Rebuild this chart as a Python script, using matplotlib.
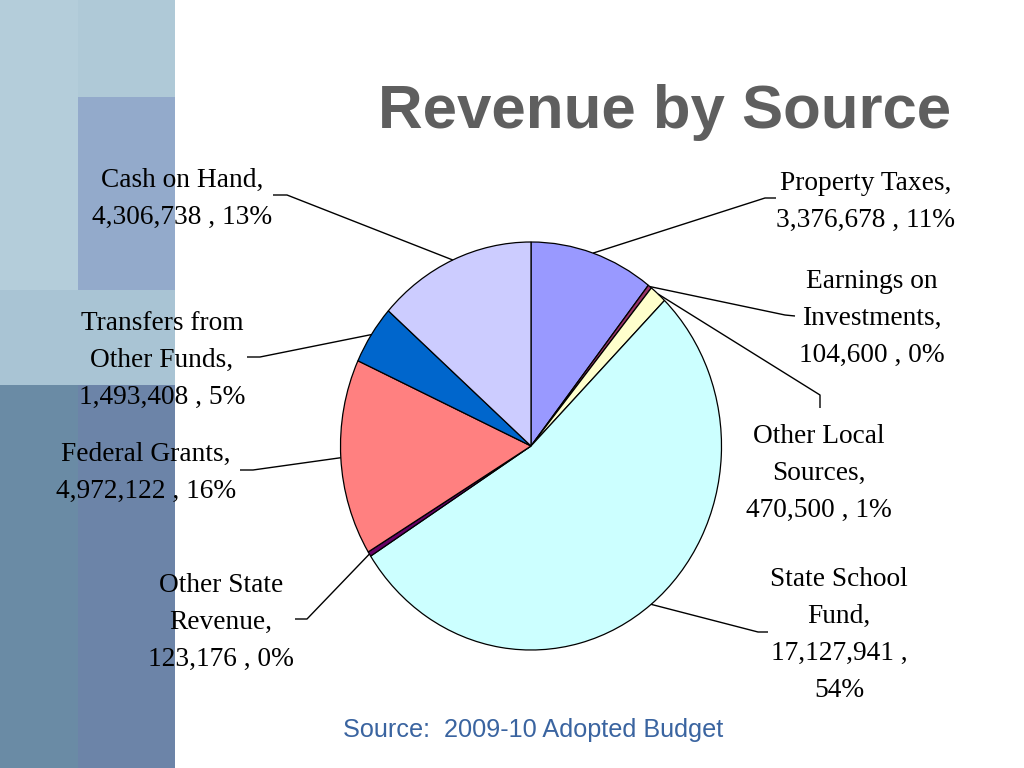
import numpy as np
import matplotlib
matplotlib.use("Agg")
import matplotlib.pyplot as plt
from matplotlib.patches import Rectangle

# revenue sources, clockwise from 12 o'clock
names = ["Property Taxes", "Earnings on\nInvestments", "Other Local\nSources",
         "State School\nFund", "Other State\nRevenue", "Federal Grants",
         "Transfers from\nOther Funds", "Cash on Hand"]
values = [3376678, 104600, 470500, 17127941, 123176, 4972122, 1493408, 4306738]
colors = ["#9999FF", "#993366", "#FFFFCC", "#CCFFFF", "#660066", "#FF8080",
          "#0066CC", "#CCCCFF"]
pct_sep = [" ", " ", " ", "\n", " ", " ", " ", " "]

title = "Revenue by Source"
source = "Source:  2009-10 Adopted Budget"

W, H = 1024, 768
# label layout in pixels: centre x, first baseline y, elbow points
label_x = [866, 872, 819, 839, 221, 146, 162, 182]
label_y = [190, 288, 443, 586, 592, 461, 330, 187]
elbow = [[(765, 198), (776, 198)],
         [(785, 315), (795, 316)],
         [(820, 395), (820, 408)],
         [(758, 632), (768, 632)],
         [(307, 619), (295, 619)],
         [(253, 470), (240, 470)],
         [(260, 357), (247, 357)],
         [(287, 195), (273, 195)]]

fig = plt.figure(figsize=(W / 100, H / 100), dpi=100)
fig.patch.set_facecolor("white")

# slide decoration on the left
bg = fig.add_axes([0, 0, 1, 1], zorder=0)
bg.set_xlim(0, W)
bg.set_ylim(H, 0)
bg.axis("off")
panels = [(0, 0, 78, 290, "#B4CDDA"),
          (78, 0, 97, 97, "#AFC9D7"),
          (78, 97, 97, 193, "#93AACB"),
          (0, 290, 175, 95, "#A9C4D4"),
          (0, 385, 78, 383, "#6A8BA5"),
          (78, 385, 97, 383, "#6C84A8")]
for x, y, w, h, c in panels:
    bg.add_patch(Rectangle((x, y), w, h, facecolor=c, edgecolor="none"))

# pie (slightly elliptical like the slide)
cx, cy, rx, ry = 531, 446, 190.5, 204
ax = fig.add_axes([(cx - rx) / W, (H - cy - ry) / H, 2 * rx / W, 2 * ry / H], zorder=1)
wedges, _ = ax.pie(values, colors=colors, startangle=90, counterclock=False,
                   wedgeprops=dict(edgecolor="black", linewidth=0.9))
ax.set_xlim(-1, 1)
ax.set_ylim(-1, 1)
ax.set_aspect("auto")
ax.axis("off")

ov = fig.add_axes([0, 0, 1, 1], zorder=2)
ov.set_xlim(0, W)
ov.set_ylim(H, 0)
ov.axis("off")
ov.patch.set_alpha(0)

total = sum(values)
for i, wdg in enumerate(wedges):
    mid = np.deg2rad((wdg.theta1 + wdg.theta2) / 2)
    dx, dy = ax.transData.transform((np.cos(mid), np.sin(mid)))
    px, py = dx, H - dy
    xs = [px] + [p[0] for p in elbow[i]]
    ys = [py] + [p[1] for p in elbow[i]]
    ov.plot(xs, ys, color="black", lw=1.0, solid_capstyle="butt")

    pct = round(values[i] / total * 100)
    txt = f"{names[i]},\n{values[i]:,} ,{pct_sep[i]}{pct}%"
    for j, line in enumerate(txt.split("\n")):
        ov.text(label_x[i], label_y[i] + j * 37, line, ha="center", va="baseline",
                fontsize=19.7, family="Liberation Serif", color="black")

ov.text(665, 128, title, ha="center", va="baseline", fontsize=44.5,
        family="Liberation Sans", fontweight="bold", color="#5F5F5F")
ov.text(533, 737, source, ha="center", va="baseline", fontsize=18.2,
        family="Liberation Sans", color="#3A64A0")

fig.savefig("out.png", dpi=100)
